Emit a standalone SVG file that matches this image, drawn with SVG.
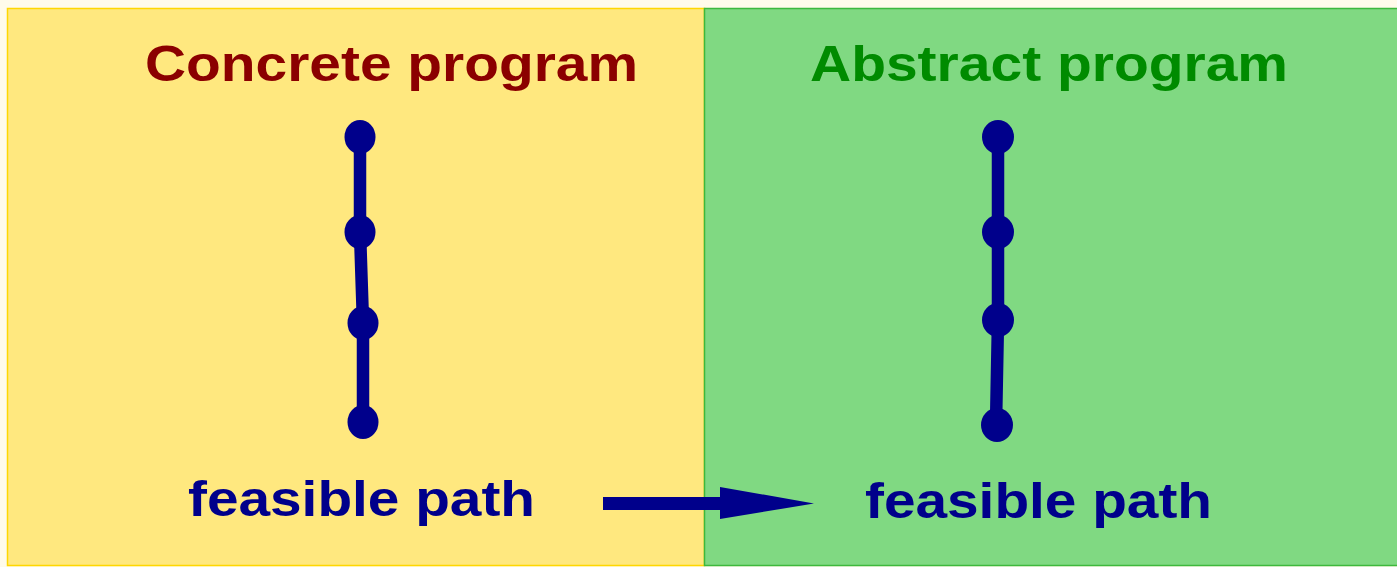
<svg xmlns="http://www.w3.org/2000/svg" width="1397" height="567" viewBox="0 0 1397 567">
<style>
.t{font-family:"Liberation Sans",Arial,sans-serif;font-weight:bold;font-size:50px}
.path{stroke:#00008B;stroke-width:12.5;fill:none;stroke-linejoin:round}
.nd{fill:#00008B}
</style>
<rect x="0" y="0" width="1397" height="567" fill="#FFFBEA"/>
<g id="concrete-panel">
<rect x="7.5" y="8.5" width="697" height="557" fill="#FFE87F" stroke="#FFD700" stroke-width="1.5"/>
<text class="t" x="145" y="81" textLength="493" lengthAdjust="spacingAndGlyphs" fill="#8B0000">Concrete program</text>
</g>
<g id="abstract-panel">
<rect x="704.5" y="8.5" width="700" height="557" fill="#80D982" stroke="#3DB83D" stroke-width="1.5"/>
<text class="t" x="810" y="81" textLength="478" lengthAdjust="spacingAndGlyphs" fill="#008B00">Abstract program</text>
</g>
<g id="concrete-path">
<polyline class="path" points="360,137 360,232 363,323 363,422"/>
<ellipse class="nd" cx="360" cy="137" rx="15.5" ry="17"/>
<ellipse class="nd" cx="360" cy="232" rx="15.5" ry="17"/>
<ellipse class="nd" cx="363" cy="323" rx="15.5" ry="17"/>
<ellipse class="nd" cx="363" cy="422" rx="15.5" ry="17"/>
<text class="t" x="188" y="516" textLength="347" lengthAdjust="spacingAndGlyphs" fill="#00008B">feasible path</text>
</g>
<g id="abstract-path">
<polyline class="path" points="998,137 998,232 998,320 996,425"/>
<ellipse class="nd" cx="998" cy="137" rx="16" ry="17"/>
<ellipse class="nd" cx="998" cy="232" rx="16" ry="17"/>
<ellipse class="nd" cx="998" cy="320" rx="16" ry="17"/>
<ellipse class="nd" cx="997" cy="425" rx="16" ry="17"/>
<text class="t" x="865" y="518" textLength="347" lengthAdjust="spacingAndGlyphs" fill="#00008B">feasible path</text>
</g>
<g id="connectors">
<polygon fill="#00008B" points="603,497 720,497 720,487 814,503.5 720,519 720,510 603,510"/>
</g>
</svg>
